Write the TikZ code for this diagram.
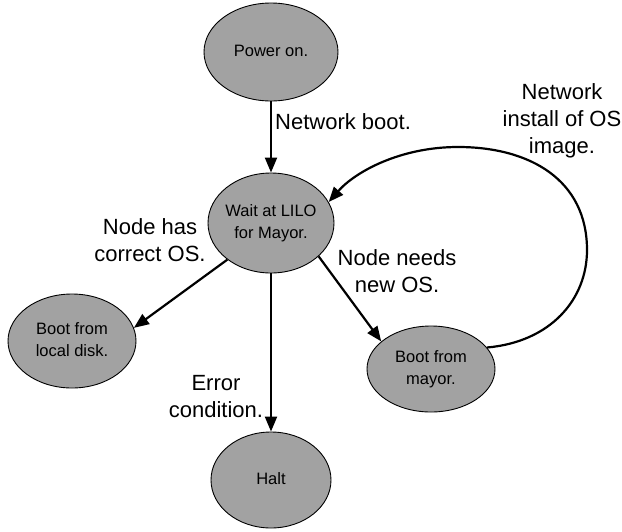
\documentclass[tikz,border=0pt]{standalone}
\usepackage{fontspec}
\setmainfont{Liberation Sans}
\usetikzlibrary{shapes.geometric,arrows.meta}
\definecolor{stategray}{RGB}{162,162,162}
\newcommand{\ctxt}[1]{\makebox[0pt]{\fontsize{16.5pt}{22pt}\selectfont\begin{tabular}{@{}c@{}}#1\end{tabular}}}
\tikzset{
  statenode/.style={ellipse, draw=black, line width=0.9pt, fill=stategray, inner sep=0pt},
  trans/.style={line width=2.2pt, -{Triangle[length=15pt,width=12pt]}},
  lbl/.style={align=center, inner sep=0pt, font=\fontsize{22pt}{27pt}\selectfont}
}
\begin{document}
\begin{tikzpicture}[x=1pt,y=-1pt]
\useasboundingbox (0,0) rectangle (622,531);
\node[statenode, minimum width=134pt, minimum height=98pt] (power) at (271,52) {\ctxt{Power on.}};
\node[statenode, minimum width=126pt, minimum height=100pt] (wait) at (271,223) {\ctxt{Wait at LILO\\for Mayor.}};
\node[statenode, minimum width=128pt, minimum height=94pt] (local) at (72,341) {\ctxt{Boot from\\local disk.}};
\node[statenode, minimum width=128pt, minimum height=86pt] (mayor) at (431,369) {\ctxt{Boot from\\mayor.}};
\node[statenode, minimum width=120pt, minimum height=96pt] (halt) at (271,480) {\ctxt{Halt}};

\draw[trans] (power) -- (wait);
\draw[trans] (wait.220) -- (local.12);
\draw[trans] (wait.325) -- (mayor.151);
\draw[trans] (wait) -- (halt);
\draw[trans] (mayor.21) .. controls (550,342) and (587,300) .. (587,250)
  .. controls (587,180) and (530,147) .. (458,147)
  .. controls (400,147) and (355,172) .. (wait.20);

\node[lbl, anchor=west] (lnb) at (275,122) {Network boot.};
\node[lbl] (lhas) at (150,240) {Node has\\correct OS.};
\node[lbl] (lneeds) at (397,271) {Node needs\\new OS.};
\node[lbl] (lerr) at (216,397) {Error\\condition.};
\node[lbl] (linst) at (562,121) {Network\\install of OS\\image.};
\end{tikzpicture}
\end{document}
